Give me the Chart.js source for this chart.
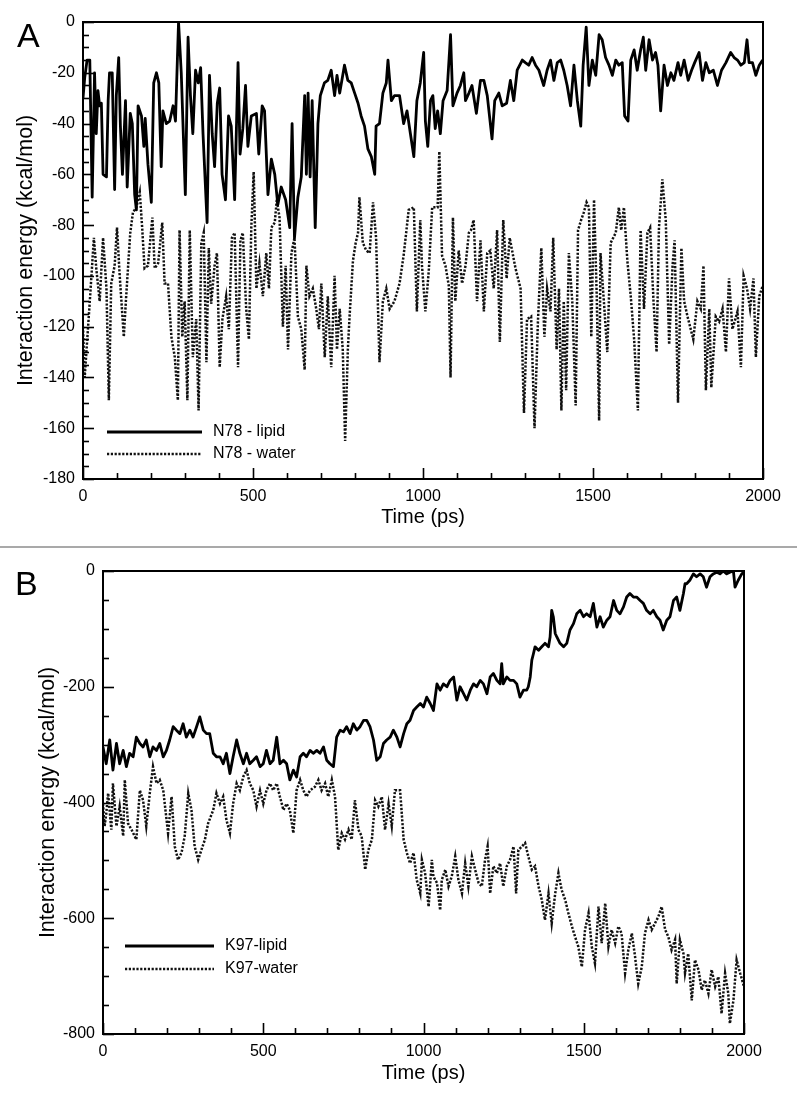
<!DOCTYPE html>
<html>
<head>
<meta charset="utf-8">
<title>Interaction energy vs time</title>
<script src="https://cdn.jsdelivr.net/npm/chart.js@4.4.0/dist/chart.umd.min.js"></script>
<style>
  body { margin: 0; background: #fff; }
  #wrap { position: relative; width: 797px; height: 1102px; }
  #chartA { position: absolute; left: 0; top: 0; }
  #chartB { position: absolute; left: 0; top: 549px; }
  .divider { position: absolute; left: 0; top: 546px; width: 797px; height: 2px; background: #a9a9a9; }
</style>
</head>
<body>
<div id="wrap">
  <canvas id="chartA" width="797" height="546"></canvas>
  <div class="divider"></div>
  <canvas id="chartB" width="797" height="553"></canvas>
</div>
<script>
// ---- panel A : N78 ----
const lipidTimeA = [0,5,12,20,27,34,39,44,49,54,59,69,74,78,86,93,98,105,110,116,125,130,139,145,152,157,162,172,179,183,191,201,208,216,223,230,235,245,255,265,272,281,289,301,309,316,323,331,339,346,353,365,372,380,387,395,402,409,419,428,436,446,456,462,470,478,485,495,510,517,527,534,544,554,564,573,583,596,608,615,622,632,642,652,657,662,668,674,683,691,698,710,720,730,740,747,755,769,779,789,799,809,818,828,838,848,858,862,872,882,892,897,907,916,931,
  943,953,963,973,982,992,1002,1007,1014,1022,1029,1036,1043,1051,1059,1071,1081,1088,1100,1110,1120,1125,1135,1144,1157,1169,1179,1189,1203,1211,1223,1233,1246,1257,1267,1277,1292,1301,1311,1321,1331,1341,1355,1365,1375,1385,1395,1405,1414,1424,1434,1444,1454,1464,1471,1480,1488,1498,1508,1518,1527,1537,1547,1557,1567,1576,1586,1593,1603,1611,1621,1630,1640,1648,1655,1665,1675,1684,1691,1699,1709,1719,1729,1738,1750,1758,1768,1780,1790,1799,1812,1822,1832,1842,1854,1866,1878,1891,1905,1915,1925,1935,1945,1953,1959,1969,1979,1989,1999];
const lipidA = [-30,-22,-15,-15,-69,-20,-44,-27,-33,-32,-60,-61,-31,-20,-20,-66,-29,-14,-41,-60,-31,-65,-36,-40,-68,-74,-33,-37,-49,-38,-56,-71,-24,-20,-24,-57,-35,-40,-39,-33,-39,0,-20,-68,-6,-29,-44,-19,-24,-18,-44,-79,-21,-44,-57,-32,-26,-60,-70,-37,-41,-70,-16,-52,-42,-25,-49,-37,-36,-52,-33,-35,-68,-54,-60,-72,-65,-70,-81,-40,-85,-69,-61,-29,-60,-28,-61,-31,-81,-40,-29,-24,-23,-19,-29,-21,-28,-17,-23,-24,-28,-32,-37,-41,-50,-53,-60,-41,-40,-28,-24,-15,-31,-29,-29,
  -40,-35,-44,-53,-31,-24,-12,-39,-49,-31,-29,-42,-35,-44,-31,-27,-5,-33,-28,-25,-20,-31,-28,-25,-36,-23,-23,-29,-46,-31,-28,-33,-32,-23,-31,-19,-15,-16,-17,-14,-17,-19,-25,-19,-15,-23,-16,-15,-19,-25,-33,-17,-31,-41,-17,-2,-25,-15,-21,-5,-7,-14,-17,-21,-15,-17,-16,-37,-39,-15,-11,-19,-11,-6,-19,-7,-15,-12,-17,-35,-17,-25,-20,-23,-16,-21,-15,-23,-19,-16,-12,-23,-16,-20,-19,-25,-19,-16,-12,-14,-15,-17,-16,-7,-16,-16,-21,-17,-15];

const waterTimeA = [0,5,20,32,39,49,59,69,76,83,93,100,108,120,127,139,147,157,167,174,181,191,204,211,221,233,240,250,260,270,279,284,292,299,307,314,323,333,340,348,355,363,370,377,387,394,402,410,421,429,438,446,456,463,470,480,488,495,502,510,519,529,539,547,554,564,570,578,588,596,603,613,622,632,642,652,657,666,676,686,694,701,711,720,730,740,747,755,764,771,779,784,794,802,809,813,823,833,843,853,862,872,882,892,902,916,931,
  943,958,973,982,992,997,1007,1017,1027,1036,1043,1048,1056,1066,1076,1081,1088,1095,1105,1115,1125,1135,1141,1149,1159,1169,1179,1189,1198,1208,1218,1226,1236,1246,1255,1272,1287,1297,1306,1318,1328,1338,1348,1357,1365,1375,1383,1393,1400,1407,1414,1421,1429,1439,1449,1456,1465,1473,1481,1488,1495,1503,1511,1518,1522,1532,1542,1552,1567,1576,1583,1591,1601,1611,1621,1632,1640,1650,1660,1668,1678,1687,1694,1704,1714,1724,1734,1740,1750,1760,1768,1778,1795,1807,1817,1825,1832,1842,1848,1861,1871,1881,1891,1900,1910,1925,1935,1943,1953,1962,1972,1979,1989,1999];
const waterA = [-120,-140,-110,-85,-97,-110,-85,-105,-149,-103,-96,-81,-100,-124,-108,-83,-75,-73,-67,-81,-97,-96,-77,-97,-95,-79,-103,-103,-124,-132,-149,-82,-124,-110,-149,-82,-132,-117,-153,-87,-83,-134,-89,-111,-96,-91,-136,-117,-108,-121,-85,-83,-136,-86,-83,-113,-125,-81,-59,-105,-95,-108,-91,-105,-81,-79,-70,-77,-120,-96,-129,-91,-85,-116,-121,-137,-96,-108,-105,-113,-121,-103,-132,-108,-136,-100,-129,-113,-129,-165,-129,-116,-94,-87,-83,-69,-87,-90,-91,-71,-85,-134,-110,-105,-113,-110,-103,
  -92,-74,-73,-114,-78,-96,-114,-98,-73,-73,-73,-51,-92,-96,-104,-140,-77,-110,-90,-103,-96,-83,-82,-78,-110,-86,-114,-91,-90,-105,-82,-126,-78,-101,-85,-97,-105,-154,-117,-116,-160,-118,-89,-124,-105,-114,-85,-129,-105,-153,-110,-145,-91,-110,-151,-82,-78,-75,-71,-73,-124,-70,-108,-157,-91,-110,-130,-87,-83,-73,-82,-73,-94,-108,-125,-153,-82,-113,-83,-81,-110,-130,-81,-62,-78,-127,-96,-86,-150,-89,-110,-116,-125,-110,-113,-96,-145,-113,-144,-116,-118,-113,-130,-101,-121,-114,-136,-100,-105,-113,-101,-132,-108,-104];

// ---- panel B : K97 ----
const lipidTimeB = [0,10,21,31,42,52,63,73,83,94,104,115,125,135,146,156,167,177,188,198,208,219,229,240,250,260,271,281,292,302,313,323,333,344,354,365,375,385,396,406,417,427,438,448,458,469,479,490,500,510,521,531,542,552,563,573,583,594,604,615,625,635,646,656,667,677,688,698,708,719,729,740,750,760,771,781,792,802,813,823,833,844,854,865,875,885,896,906,917,927,
  938,948,958,969,979,990,1000,1010,1021,1031,1042,1052,1062,1073,1083,1094,1104,1114,1125,1135,1146,1156,1166,1177,1187,1198,1208,1218,1229,1239,1244,1249,1260,1270,1281,1291,1301,1312,1322,1327,1333,1338,1343,1348,1359,1369,1379,1390,1395,1400,1405,1411,1416,1426,1437,1447,1457,1468,1478,1489,1499,1509,1520,1530,1541,1551,1561,1572,1582,1593,1603,1613,1624,1634,1644,1655,1665,1676,1686,1696,1707,1717,1728,1738,1748,1759,1769,1780,1790,1800,1811,1816,1821,1831,1842,1852,1863,1873,1883,1894,1904,1915,1925,1935,1946,1956,1967,1972,1982,1993,2000];
const lipidB = [-304,-333,-292,-344,-298,-333,-310,-338,-315,-321,-287,-298,-304,-292,-321,-304,-310,-298,-321,-310,-292,-269,-275,-281,-264,-287,-275,-287,-269,-252,-275,-281,-281,-315,-321,-321,-333,-315,-350,-321,-292,-315,-333,-315,-333,-327,-321,-338,-333,-310,-333,-327,-287,-333,-327,-333,-361,-344,-356,-321,-315,-321,-310,-315,-310,-315,-304,-327,-333,-338,-287,-275,-278,-269,-281,-264,-275,-269,-258,-258,-269,-292,-327,-321,-298,-292,-287,-275,-287,-304,
  -281,-264,-258,-241,-235,-229,-235,-218,-229,-241,-195,-206,-195,-200,-189,-183,-223,-200,-212,-223,-206,-195,-200,-189,-195,-212,-183,-177,-189,-195,-160,-195,-183,-189,-189,-195,-218,-206,-206,-200,-183,-154,-143,-131,-137,-131,-125,-131,-114,-68,-79,-108,-114,-125,-131,-125,-102,-91,-74,-68,-79,-74,-79,-56,-97,-79,-97,-85,-79,-51,-68,-74,-62,-45,-39,-45,-45,-51,-56,-68,-74,-68,-79,-85,-102,-85,-79,-51,-45,-68,-39,-22,-22,-16,-5,-10,-5,-10,-28,-10,-5,-2,-5,0,-5,-2,0,-28,-16,-5,-2];

const waterTimeB = [0,5,10,16,26,31,42,52,63,68,78,89,104,115,125,135,146,156,167,177,188,203,214,224,234,245,255,266,276,286,297,307,318,328,344,354,365,375,385,396,406,417,427,438,448,458,469,479,490,500,510,521,531,542,552,563,573,583,594,604,615,625,635,646,661,672,682,693,703,714,724,734,745,755,766,776,786,797,807,818,828,839,849,859,870,880,891,901,911,927,
  938,948,958,969,979,990,995,1005,1016,1026,1031,1042,1052,1057,1068,1078,1088,1099,1109,1120,1130,1140,1151,1161,1172,1182,1192,1200,1208,1218,1229,1239,1249,1260,1270,1281,1289,1296,1307,1317,1327,1338,1348,1359,1369,1379,1390,1400,1411,1421,1431,1442,1452,1463,1473,1483,1494,1504,1515,1525,1535,1546,1556,1567,1577,1587,1598,1608,1618,1629,1639,1650,1660,1670,1681,1691,1702,1712,1722,1733,1743,1754,1764,1774,1785,1790,1800,1811,1816,1826,1837,1847,1858,1868,1878,1889,1899,1910,1920,1930,1941,1951,1956,1967,1977,1988,2000];
const waterB = [-402,-441,-420,-384,-447,-367,-441,-407,-458,-361,-436,-447,-464,-379,-396,-441,-384,-338,-367,-361,-379,-453,-390,-476,-499,-487,-458,-384,-413,-476,-499,-482,-464,-436,-413,-384,-402,-390,-430,-453,-402,-367,-379,-355,-344,-367,-379,-407,-379,-402,-379,-367,-379,-367,-390,-413,-402,-413,-453,-379,-361,-379,-390,-379,-373,-361,-379,-367,-390,-361,-390,-482,-453,-464,-447,-464,-396,-447,-458,-516,-482,-464,-396,-407,-390,-447,-402,-441,-379,-379,
  -464,-487,-505,-487,-534,-557,-499,-522,-580,-499,-528,-539,-586,-534,-516,-545,-528,-493,-534,-557,-505,-545,-493,-516,-539,-545,-499,-476,-557,-510,-522,-505,-545,-510,-499,-476,-557,-482,-476,-470,-493,-516,-510,-545,-568,-603,-557,-609,-557,-522,-551,-568,-591,-614,-632,-649,-684,-620,-591,-649,-678,-580,-643,-574,-649,-620,-643,-614,-626,-695,-655,-626,-666,-713,-684,-626,-603,-620,-609,-597,-580,-620,-632,-655,-637,-713,-637,-661,-695,-661,-742,-672,-689,-724,-707,-730,-689,-718,-701,-765,-695,-730,-782,-742,-672,-695,-718];

const timeRange = [0, 2000];
const yRangeA = [-180, 0];
const yRangeB = [-800, 0];

const FONT = "'Liberation Sans', Arial, Helvetica, sans-serif";
Chart.defaults.font.family = FONT;
Chart.defaults.color = '#000';

function pts(t, v) {
  return t.map((x, i) => ({ x: x, y: v[i] }));
}

// box round the plot, ticks pointing inward, legend and the panel letter
const panelDecor = {
  id: 'panelDecor',
  afterDatasetsDraw(chart, args, o) {
    const { ctx, chartArea: a, scales: { x, y } } = chart;
    ctx.save();
    ctx.strokeStyle = '#000';
    ctx.lineWidth = 1.6;
    ctx.setLineDash([]);
    for (let v = x.min; v <= x.max; v += o.xMinor) {
      const px = Math.round(x.getPixelForValue(v)) + 0.5;
      const len = v % o.xMajor === 0 ? 11 : 6;
      ctx.beginPath();
      ctx.moveTo(px, a.bottom);
      ctx.lineTo(px, a.bottom - len);
      ctx.stroke();
    }
    for (let v = y.min; v <= y.max; v += o.yMinor) {
      const py = Math.round(y.getPixelForValue(v)) + 0.5;
      const len = v % o.yMajor === 0 ? 11 : 6;
      ctx.beginPath();
      ctx.moveTo(a.left, py);
      ctx.lineTo(a.left + len, py);
      ctx.stroke();
    }
    ctx.lineWidth = 2;
    ctx.strokeRect(a.left, a.top, a.right - a.left, a.bottom - a.top);

    // legend
    ctx.font = '16px ' + FONT;
    ctx.textBaseline = 'middle';
    ctx.fillStyle = '#000';
    chart.data.datasets.forEach((ds, i) => {
      const ly = o.legendY[i];
      ctx.setLineDash(ds.borderDash || []);
      ctx.lineWidth = ds.borderWidth;
      ctx.strokeStyle = ds.borderColor;
      ctx.beginPath();
      ctx.moveTo(o.legendX[0], ly);
      ctx.lineTo(o.legendX[1], ly);
      ctx.stroke();
      ctx.fillText(ds.label, o.legendX[1] + 11, ly);
    });

    // panel letter
    ctx.font = '34px ' + FONT;
    ctx.textBaseline = 'alphabetic';
    ctx.fillText(o.letter, o.letterPos[0], o.letterPos[1]);
    ctx.restore();
  }
};

function makePanel(id, p) {
  const ctx = document.getElementById(id).getContext('2d');
  return new Chart(ctx, {
    type: 'line',
    data: {
      datasets: [
        {
          label: p.labels[0],
          data: pts(p.lipidT, p.lipid),
          borderColor: '#000',
          borderWidth: 2.8,
          borderJoinStyle: 'round',
          pointRadius: 0
        },
        {
          label: p.labels[1],
          data: pts(p.waterT, p.water),
          borderColor: '#111',
          borderWidth: 2.5,
          borderDash: [2.2, 1.6],
          pointRadius: 0
        }
      ]
    },
    options: {
      responsive: false,
      animation: false,
      devicePixelRatio: 1,
      layout: { padding: { top: 22, right: p.rightPad, left: 0, bottom: 0 } },
      plugins: {
        legend: { display: false },
        tooltip: { enabled: false },
        panelDecor: p.decor
      },
      scales: {
        x: {
          type: 'linear',
          min: timeRange[0],
          max: timeRange[1],
          afterFit: (s) => { s.height = p.xAxisH; },
          grid: { display: false, drawTicks: false },
          border: { display: false },
          ticks: { stepSize: 500, padding: 8, maxRotation: 0, font: { size: 16 }, color: '#000', callback: (v) => String(v) },
          title: { display: true, text: 'Time (ps)', color: '#000', font: { size: 20 }, padding: { top: 0, bottom: 17 } }
        },
        y: {
          min: p.yRange[0],
          max: p.yRange[1],
          afterFit: (s) => { s.width = p.yAxisW; },
          grid: { display: false, drawTicks: false },
          border: { display: false },
          ticks: { stepSize: p.yStep, padding: 8, font: { size: 16 }, color: '#000', callback: (v) => String(v) },
          title: { display: true, text: 'Interaction energy (kcal/mol)', color: '#000', font: { size: 21.5 }, padding: { top: p.yTitlePad, bottom: 0 } }
        }
      }
    },
    plugins: [panelDecor]
  });
}

makePanel('chartA', {
  labels: ['N78 - lipid', 'N78 - water'],
  lipidT: lipidTimeA, lipid: lipidA, waterT: waterTimeA, water: waterA,
  yRange: yRangeA, yStep: 20,
  yAxisW: 83, xAxisH: 67, rightPad: 34, yTitlePad: 13,
  decor: { xMajor: 500, xMinor: 100, yMajor: 20, yMinor: 5, legendX: [107, 202], legendY: [432, 454], letter: 'A', letterPos: [17, 47] }
});

makePanel('chartB', {
  labels: ['K97-lipid', 'K97-water'],
  lipidT: lipidTimeB, lipid: lipidB, waterT: waterTimeB, water: waterB,
  yRange: yRangeB, yStep: 200,
  yAxisW: 103, xAxisH: 68, rightPad: 53, yTitlePad: 35,
  decor: { xMajor: 500, xMinor: 100, yMajor: 200, yMinor: 50, legendX: [125, 214], legendY: [397, 420], letter: 'B', letterPos: [15, 46] }
});
</script>
</body>
</html>
